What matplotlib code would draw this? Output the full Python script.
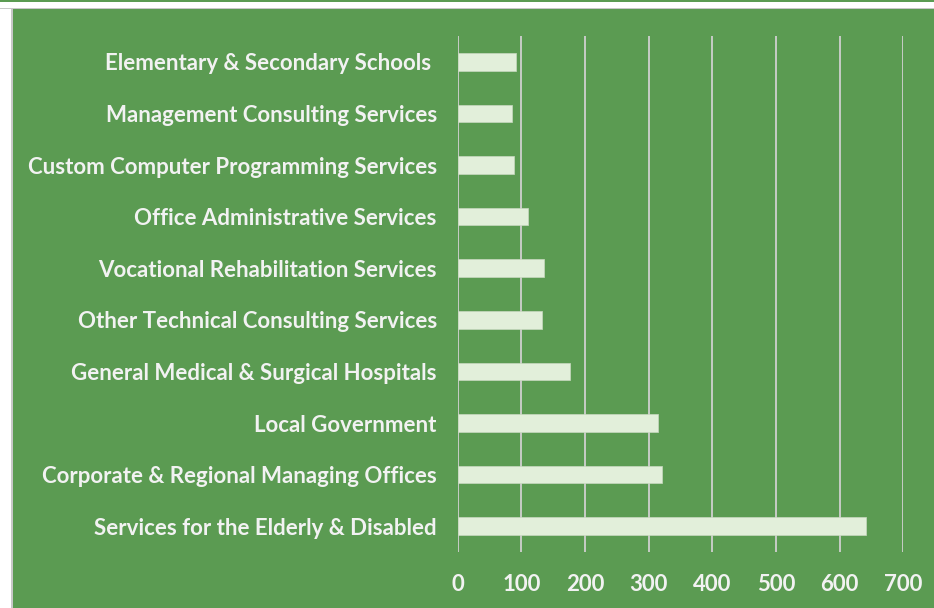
import matplotlib
matplotlib.use("Agg")
import matplotlib.pyplot as plt
from matplotlib.patches import Rectangle

# categories listed bottom to top as drawn
industries = [
    "Services for the Elderly & Disabled",
    "Corporate & Regional Managing Offices",
    "Local Government",
    "General Medical & Surgical Hospitals",
    "Other Technical Consulting Services",
    "Vocational Rehabilitation Services",
    "Office Administrative Services",
    "Custom Computer Programming Services",
    "Management Consulting Services",
    "Elementary & Secondary Schools ",
]
counts = [642, 321, 315, 177, 133, 136, 111, 89, 86, 92]
xticks = [0, 100, 200, 300, 400, 500, 600, 700]

green = "#5B9B52"
barcol = "#E2EFDA"
txtcol = "#F2F2F2"

plt.rcParams["font.family"] = ["Lato", "DejaVu Sans"]

fig = plt.figure(figsize=(9.34, 6.08), dpi=100, facecolor="white")
# green chart area with white strip at top/left
def strip(x, y, w, h, col):
    fig.patches.append(Rectangle((x / 934, 1 - (y + h) / 608), w / 934, h / 608,
                                 transform=fig.transFigure, facecolor=col,
                                 edgecolor="none", zorder=-5))

strip(12, 9, 922, 599, green)
strip(11, 8, 1.5, 600, "#C8C8C8")
strip(0, 7.5, 934, 1.5, "#C8C8C8")
strip(0, 0, 934, 1.5, green)

ax = fig.add_axes([457.7 / 934, 1 - 552 / 608, (903.3 - 457.7) / 934, (552 - 36) / 608])
ax.set_zorder(2)
ax.set_facecolor("none")
ax.barh(range(len(industries)), counts, height=0.34, color=barcol,
        edgecolor="#C9D9C0", linewidth=0.5, zorder=3)
ax.set_xlim(0, 700)
ax.set_ylim(-0.5, len(industries) - 0.5)
ax.set_xticks(xticks)
ax.set_yticks(range(len(industries)))
ax.set_yticklabels(industries)
ax.xaxis.grid(True, color="#D0D0D0", linewidth=1.3, zorder=0)
ax.set_axisbelow(True)
for s in ax.spines.values():
    s.set_visible(False)
ax.tick_params(axis="both", length=0, colors=txtcol, labelsize=16)
ax.tick_params(axis="y", pad=15)
ax.tick_params(axis="x", pad=16)
for lab in ax.get_xticklabels() + ax.get_yticklabels():
    lab.set_fontweight("bold")

fig.savefig("out.png", dpi=100, facecolor=fig.get_facecolor())
